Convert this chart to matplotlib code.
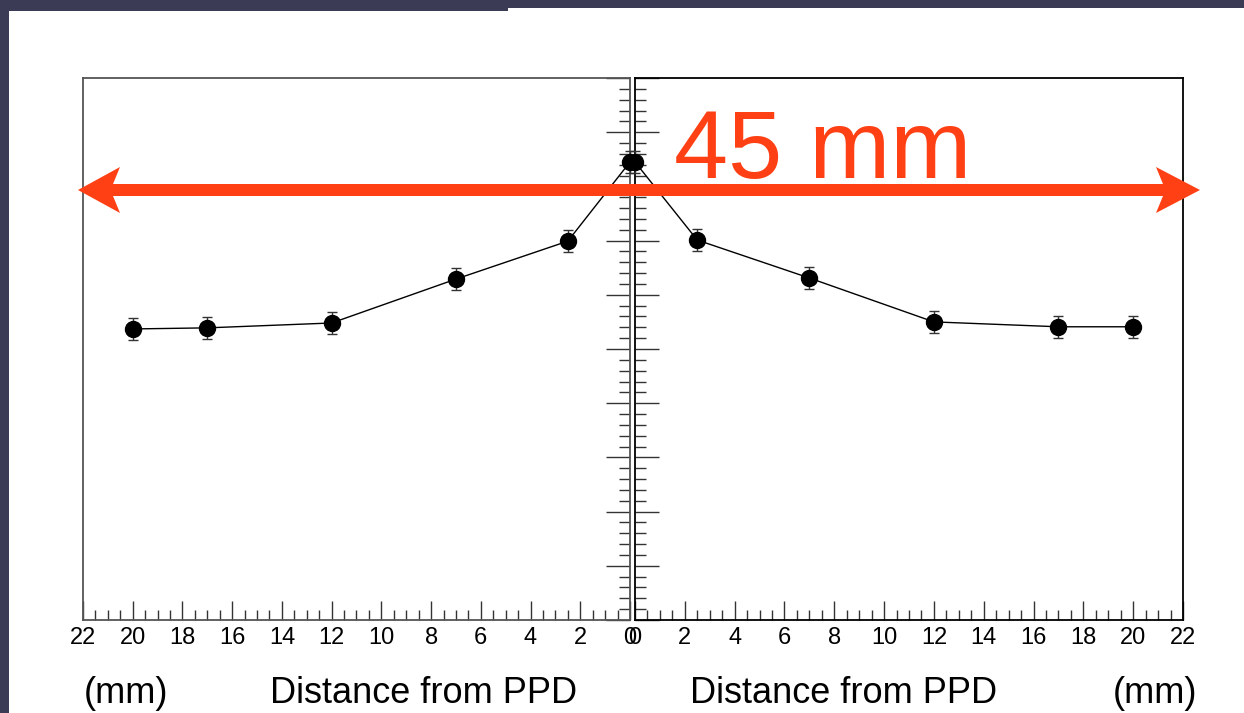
import matplotlib
matplotlib.use("Agg")
import matplotlib.pyplot as plt
from matplotlib.patches import Rectangle, Polygon
from matplotlib.ticker import MultipleLocator

plt.rcParams['font.family'] = ['Liberation Sans', 'DejaVu Sans']

# distance from PPD (mm) and relative light yield
right_x = [0, 2.5, 7, 12, 17, 20]
right_y = [84.5, 70.1, 63.1, 55.0, 54.1, 54.1]
right_err = [2.0, 2.0, 2.0, 2.0, 2.0, 2.0]
left_x = [0, 2.5, 7, 12, 17, 20]
left_y = [84.5, 69.9, 62.9, 54.8, 53.9, 53.7]
left_err = [2.0, 2.0, 2.0, 2.0, 2.0, 2.0]
xticks = list(range(0, 23, 2))

W, H = 1244, 713
fig = plt.figure(figsize=(W / 100, H / 100), dpi=100)
fig.patch.set_facecolor('#3c3b55')
fig.patches.append(Rectangle((9 / W, 0), 1, (H - 11) / H, transform=fig.transFigure,
                             facecolor='white', edgecolor='none', zorder=-2))
fig.patches.append(Rectangle((508 / W, 0), 1, (H - 8) / H, transform=fig.transFigure,
                             facecolor='white', edgecolor='none', zorder=-2))

bot = (H - 620) / H
hgt = 542 / H
axL = fig.add_axes([83 / W, bot, 547 / W, hgt], zorder=2)
axR = fig.add_axes([635 / W, bot, 548 / W, hgt], zorder=2)


def style(ax, side):
    ax.set_facecolor('white')
    ax.set_xlim(0, 22)
    ax.set_ylim(0, 100)
    ax.xaxis.set_major_locator(MultipleLocator(2))
    ax.xaxis.set_minor_locator(MultipleLocator(0.5))
    ax.yaxis.set_major_locator(MultipleLocator(10))
    ax.yaxis.set_minor_locator(MultipleLocator(2))
    ax.tick_params(axis='x', which='both', direction='in', top=False, bottom=True,
                   labelsize=17, pad=5, color='#333333')
    ax.tick_params(axis='x', which='major', length=14, width=1)
    ax.tick_params(axis='x', which='minor', length=7, width=1)
    ax.tick_params(axis='y', which='both', direction='in', labelleft=False,
                   labelright=False, color='#333333',
                   left=(side == 'left'), right=(side == 'right'))
    ax.tick_params(axis='y', which='major', length=17, width=1)
    ax.tick_params(axis='y', which='minor', length=8, width=1)
    ax.set_xticks(xticks)


style(axR, 'left')
style(axL, 'right')
axL.invert_xaxis()
for s in axL.spines.values():
    s.set_color('#555555')
    s.set_linewidth(1.3)
for s in axR.spines.values():
    s.set_color('black')
    s.set_linewidth(1.3)

for ax, xs, ys, es in [(axR, right_x, right_y, right_err), (axL, left_x, left_y, left_err)]:
    ax.errorbar(xs, ys, yerr=es, fmt='-o', color='black', lw=1, ms=11.5,
                elinewidth=1, ecolor='#333333', capsize=3.5, capthick=1, clip_on=False,
                zorder=3)

# overlay in pixel coordinates for the annotations
ov = fig.add_axes([0, 0, 1, 1], zorder=10)
ov.set_xlim(0, W)
ov.set_ylim(H, 0)
ov.axis('off')
ov.patch.set_alpha(0)

red = '#ff4014'
yc = 190
arrow_pts = [(78, yc), (120, yc - 23), (113, yc - 6), (1163, yc - 6), (1156, yc - 23),
             (1200, yc), (1156, yc + 23), (1163, yc + 6), (113, yc + 6), (120, yc + 23)]
ov.add_patch(Polygon(arrow_pts, closed=True, facecolor=red, edgecolor='none'))
ov.text(674, 178, '45 mm', color=red, fontsize=70,
        ha='left', va='baseline')

ov.text(844, 703, 'Distance from PPD', fontsize=26, ha='center', va='baseline')
ov.text(1155, 703, '(mm)', fontsize=26, ha='center', va='baseline')
ov.text(424, 703, 'Distance from PPD', fontsize=26, ha='center', va='baseline')
ov.text(126, 703, '(mm)', fontsize=26, ha='center', va='baseline')

fig.savefig('out.png', dpi=100, facecolor=fig.get_facecolor())
